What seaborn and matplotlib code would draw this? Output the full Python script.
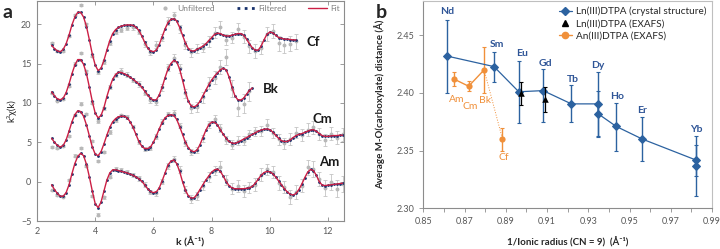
import numpy as np
import matplotlib
matplotlib.use("Agg")
import matplotlib.pyplot as plt
import seaborn as sns
from matplotlib.lines import Line2D
from matplotlib.ticker import MultipleLocator

sns.set_theme(style="ticks")
plt.rcParams['font.family'] = ['Lato', 'DejaVu Sans']

# =========================
# DATA  (panel a: k^3 chi(k), offset spectra)
# =========================
# fit / filtered curves, k from 2.5 in steps of 0.1
AM_FIT = [-0.4, -1.0, -1.5, -1.85, -1.85, -1.4, -0.4, 1.0, 2.3, 3.2,
          3.6, 3.3, 2.2, 0.6, -1.2, -2.8, -3.3, -2.6, -1.2, 0.2,
          1.1, 1.5, 1.5, 1.4, 1.3, 1.2, 1.1, 0.95, 0.8, 0.6,
          0.35, 0.05, -0.4, -0.9, -1.25, -1.4, -1.3, -0.8, 0.1, 1.1,
          2.1, 2.6, 2.75, 2.3, 1.3, 0.0, -1.1, -1.8, -2.1, -2.05,
          -1.6, -1.0, -0.4, 0.2, 0.7, 1.2, 1.5, 1.6, 1.3, 0.7,
          0.0, -0.5, -0.8, -0.9, -0.9, -0.9, -0.9, -0.85, -0.8, -0.6,
          -0.2, 0.3, 0.8, 1.15, 1.3, 1.25, 1.0, 0.6, 0.1, -0.4,
          -0.9, -1.3, -1.6, -1.7, -1.5, -1.0, -0.3, 0.5, 1.2, 1.55,
          1.4, 0.8, 0.0, -0.45, -0.5, -0.45, -0.4, -0.35, -0.3, -0.25,
          -0.2]
CM_FIT = [5.5, 5.0, 4.6, 4.4, 4.6, 5.3, 6.4, 7.6, 8.5, 9.0,
          8.9, 8.3, 7.2, 5.8, 4.4, 3.5, 3.3, 3.8, 4.8, 5.9,
          6.9, 7.6, 8.0, 8.25, 8.3, 8.3, 8.1, 7.6, 6.9, 6.0,
          5.1, 4.5, 4.2, 4.2, 4.4, 5.0, 5.8, 6.7, 7.5, 8.1,
          8.4, 8.5, 8.4, 7.9, 7.0, 6.0, 5.0, 4.3, 3.9, 3.8,
          4.0, 4.7, 5.6, 6.5, 7.2, 7.55, 7.55, 7.2, 6.6, 6.0,
          5.5, 5.1, 4.9, 4.85, 5.0, 5.2, 5.4, 5.6, 5.8, 6.0,
          6.2, 6.4, 6.55, 6.65, 6.7, 6.6, 6.3, 5.9, 5.5, 5.2,
          5.1, 5.1, 5.3, 5.6, 5.85, 6.0, 6.1, 6.25, 6.4, 6.55,
          6.6, 6.4, 6.1, 5.85, 5.75, 5.75, 5.8, 5.85, 5.85, 5.9,
          5.9]
BK_FIT = [11.4, 10.9, 10.5, 10.4, 10.6, 11.3, 12.4, 13.7, 14.8, 15.5,
          15.5, 14.9, 13.7, 12.0, 10.2, 8.7, 8.1, 8.4, 9.4, 10.8,
          12.0, 13.0, 13.6, 13.9, 13.85, 13.7, 13.5, 13.25, 13.0, 12.7,
          12.4, 12.0, 11.5, 11.0, 10.6, 10.35, 10.4, 11.0, 12.0, 13.2,
          14.3, 15.0, 15.4, 15.2, 14.3, 12.9, 11.4, 10.2, 9.6, 9.5,
          9.7, 10.2, 10.9, 11.6, 12.3, 12.9, 13.4, 13.8, 14.2, 14.4,
          14.2, 13.3, 12.0, 10.9, 10.4, 10.35, 10.6, 11.1, 11.6, 11.9]
CF_FIT = [17.3, 16.9, 16.6, 16.5, 16.8, 17.5, 18.6, 19.9, 20.9, 21.5,
          21.5, 20.9, 19.7, 18.0, 16.2, 14.8, 14.1, 14.4, 15.4, 16.7,
          17.9, 18.8, 19.3, 19.6, 19.75, 19.85, 19.9, 19.9, 19.85, 19.6,
          19.2, 18.5, 17.7, 17.0, 16.6, 16.5, 16.7, 17.4, 18.4, 19.4,
          20.2, 20.6, 20.7, 20.4, 19.6, 18.6, 17.6, 16.9, 16.6, 16.6,
          16.8, 17.0, 17.2, 17.5, 17.9, 18.3, 18.7, 18.85, 18.8, 18.6,
          18.5, 18.5, 18.6, 18.7, 18.8, 18.8, 18.6, 18.1, 17.5, 17.0,
          16.7, 16.7, 17.2, 18.0, 18.7, 19.0, 18.9, 18.6, 18.3, 18.2,
          18.1, 18.1, 18.05, 18.0, 18.0]

# unfiltered data with error bars, k from 2.5 in steps of 0.2
AM_RAW = [-1.1, -1.7, -1.9, 0.2, 3.3, 4.3, 2.0, -1.8, -4.2, -2.0,
          0.6, 1.6, 1.5, 1.2, 0.9, 0.4, -0.4, -1.3, -1.5, 0.0,
          2.0, 2.9, 1.5, -1.0, -2.2, -1.8, -0.5, 0.6, 1.4, 1.9,
          0.2, -0.9, -0.6, -1.2, -0.7, -0.4, 0.9, 1.6, 1.2, -0.2,
          -0.7, -1.9, -1.3, -0.5, 1.8, 1.6, 0.3, -0.8, 0.0, -0.9,
          -0.3]
AM_ERR = [0.1, 0.1, 0.1, 0.12, 0.15, 0.15, 0.15, 0.15, 0.2, 0.2,
          0.2, 0.2, 0.2, 0.25, 0.25, 0.3, 0.3, 0.3, 0.35, 0.35,
          0.4, 0.4, 0.45, 0.45, 0.5, 0.5, 0.55, 0.6, 0.6, 0.7,
          0.6, 0.7, 0.75, 0.8, 0.7, 0.8, 0.85, 0.7, 0.8, 0.9,
          0.8, 0.9, 0.9, 0.8, 0.95, 1.0, 0.9, 1.0, 1.0, 1.1,
          1.0]
CM_RAW = [4.4, 4.3, 4.5, 5.8, 8.5, 9.9, 8.6, 5.2, 2.6, 3.8,
          6.3, 7.8, 8.4, 8.2, 7.0, 5.0, 4.1, 4.3, 5.7, 7.6,
          8.6, 8.7, 7.1, 4.9, 3.8, 4.0, 5.5, 7.3, 7.9, 6.8,
          5.3, 4.7, 5.2, 5.2, 6.0, 6.4, 6.4, 7.2, 6.2, 5.4,
          4.9, 5.4, 6.2, 5.9, 6.6, 6.9, 6.0, 5.3, 6.1, 5.6,
          6.0]
CM_ERR = [0.1, 0.1, 0.1, 0.1, 0.12, 0.15, 0.15, 0.15, 0.15, 0.15,
          0.2, 0.2, 0.2, 0.2, 0.2, 0.25, 0.25, 0.25, 0.3, 0.3,
          0.3, 0.35, 0.35, 0.35, 0.4, 0.4, 0.45, 0.45, 0.5, 0.5,
          0.5, 0.55, 0.55, 0.6, 0.6, 0.6, 0.65, 0.7, 0.65, 0.7,
          0.7, 0.75, 0.7, 0.75, 0.8, 0.8, 0.75, 0.8, 0.85, 0.8,
          0.85]
BK_RAW = [11.2, 10.3, 10.5, 12.2, 15.0, 16.3, 14.0, 10.0, 7.7, 9.3,
          12.0, 13.6, 14.1, 13.6, 12.9, 12.4, 11.3, 10.4, 10.1, 12.0,
          14.5, 15.7, 14.4, 11.2, 9.3, 9.5, 10.7, 12.5, 13.2, 14.6,
          15.8, 11.8, 9.4, 9.9, 11.5]
BK_ERR = [0.1, 0.1, 0.1, 0.15, 0.15, 0.15, 0.2, 0.2, 0.2, 0.2,
          0.25, 0.25, 0.3, 0.3, 0.3, 0.35, 0.35, 0.4, 0.4, 0.45,
          0.45, 0.5, 0.55, 0.6, 0.6, 0.65, 0.7, 0.75, 0.8, 0.9,
          1.0, 1.1, 1.1, 1.2, 1.2]
CF_RAW = [17.6, 16.6, 16.6, 18.5, 21.2, 22.4, 20.0, 16.0, 13.9, 15.2,
          17.6, 19.0, 19.3, 19.5, 19.6, 19.0, 17.5, 16.4, 17.4, 18.3,
          20.4, 21.1, 19.4, 17.3, 16.4, 16.9, 17.0, 17.8, 18.9, 19.6,
          18.0, 18.3, 19.4, 18.4, 17.2, 16.6, 17.0, 18.8, 19.1, 17.6,
          17.3, 17.5, 17.8]
CF_ERR = [0.1, 0.1, 0.1, 0.15, 0.15, 0.15, 0.2, 0.2, 0.2, 0.2,
          0.25, 0.25, 0.25, 0.3, 0.3, 0.3, 0.35, 0.35, 0.4, 0.4,
          0.45, 0.45, 0.5, 0.5, 0.55, 0.6, 0.6, 0.65, 0.7, 0.8,
          0.7, 0.75, 0.8, 0.8, 0.85, 0.9, 0.85, 0.9, 0.9, 0.95,
          1.0, 0.95, 1.0]

SPECTRA = ['Am', 'Cm', 'Bk', 'Cf']
K_END = {'Am': 12.5, 'Cm': 12.5, 'Bk': 9.4, 'Cf': 10.9}

# =========================
# DATA  (panel b: M-O distance vs 1/ionic radius)
# =========================
LN_NAMES = ['Nd', 'Sm', 'Eu', 'Gd', 'Tb', 'Dy', 'Ho', 'Er', 'Yb']
LN_X = [0.8614, 0.8843, 0.8963, 0.9081, 0.9218, 0.9347, 0.9347, 0.9435, 0.9562, 0.9824, 0.9824]
LN_Y = [2.432, 2.4228, 2.401, 2.402, 2.3905, 2.3905, 2.382, 2.371, 2.360, 2.3417, 2.337]
LN_ERR_LO = [0.032, 0.0133, 0.027, 0.027, 0.0155, 0.028, 0.020, 0.021, 0.019, 0.0135, 0.026]
LN_ERR_HI = [0.031, 0.0125, 0.027, 0.019, 0.016, 0.028, 0.020, 0.020, 0.019, 0.0135, 0.026]

LNX_X = [0.8974, 0.9092]
LNX_Y = [2.3995, 2.3945]
LNX_ERR = [0.010, 0.011]

AN_NAMES = ['Am', 'Cm', 'Bk', 'Cf']
AN_X = [0.8649, 0.8720, 0.8795, 0.8884]
AN_Y = [2.412, 2.4058, 2.420, 2.360]
AN_ERR = [0.006, 0.0045, 0.020, 0.010]

# =========================
# STYLE
# =========================
GREY_TXT = '#595959'
SPINE = '#8c8c8c'
RAW_C = '#b8b8b8'
FILT_C = '#16306b'
FIT_C = '#cc1f45'
BLUE = '#2c62a0'
BLUE_TXT = '#2f5597'
ORANGE = '#f0903a'

fig = plt.figure(figsize=(7.2, 2.49), dpi=100)
axa = fig.add_axes([0.0514, 0.1124, 0.4264, 0.8855])
axb = fig.add_axes([0.5879, 0.1635, 0.4010, 0.8340])

# ---------- panel a ----------
data = {'Am': (AM_FIT, AM_RAW, AM_ERR), 'Cm': (CM_FIT, CM_RAW, CM_ERR),
        'Bk': (BK_FIT, BK_RAW, BK_ERR), 'Cf': (CF_FIT, CF_RAW, CF_ERR)}
for name in SPECTRA:
    fit, raw, err = data[name]
    k_fit = np.round(np.arange(2.5, K_END[name] + 0.01, 0.1), 2)
    k_raw = np.round(np.arange(2.5, K_END[name] + 0.01, 0.2), 2)
    axa.errorbar(k_raw, raw, yerr=err, fmt='o', ms=1.8, mfc=RAW_C, mec=RAW_C,
                 ecolor='#c4c4c4', elinewidth=0.6, capsize=1.2, capthick=0.6, zorder=1)
    sns.scatterplot(x=k_fit, y=fit, ax=axa, s=4, color=FILT_C, linewidth=0, zorder=2)
    sns.lineplot(x=k_fit, y=fit, ax=axa, color=FIT_C, lw=1.0, zorder=3)

spec_lbl = {'Cf': (11.5, 17.75), 'Bk': (10.05, 11.8), 'Cm': (11.8, 8.0), 'Am': (12.05, 2.5)}
for name, (tx, ty) in spec_lbl.items():
    axa.text(tx, ty, name, fontsize=9.5, fontweight='bold', ha='center', va='center', color='#1a1a1a')

axa.set_xlim(2, 12.55)
axa.set_ylim(-5, 23)
axa.set_xticks([2, 4, 6, 8, 10, 12])
axa.set_yticks([-5, 0, 5, 10, 15, 20])
axa.tick_params(direction='in', top=True, right=True, length=3, width=0.6,
                color=SPINE, labelcolor=GREY_TXT, labelsize=6.5, pad=4)
for sp in axa.spines.values():
    sp.set_color(SPINE)
    sp.set_linewidth(0.8)
axa.set_xlabel('k (Å⁻¹)', fontsize=7.5, fontweight='bold', labelpad=1, color='#262626')
axa.set_ylabel('k³χ(k)', fontsize=7, labelpad=3, color='#262626')

handles = [Line2D([], [], ls='none', marker='o', ms=2, color=RAW_C),
           Line2D([], [], ls=(0, (1, 1.6)), lw=2, color=FILT_C),
           Line2D([], [], lw=1.0, color=FIT_C)]
leg = axa.legend(handles, ['Unfiltered', 'Filtered', 'Fit'], ncol=3, loc='upper right',
                 bbox_to_anchor=(1.01, 1.015), frameon=False, fontsize=6,
                 handlelength=2.2, handletextpad=0.4, columnspacing=2.6)
for t in leg.get_texts():
    t.set_color('#7f7f7f')

# ---------- panel b ----------
axb.errorbar(LN_X, LN_Y, yerr=[LN_ERR_LO, LN_ERR_HI], fmt='none', ecolor=BLUE,
             elinewidth=1.0, capsize=1.5, capthick=0.8, zorder=2)
sns.lineplot(x=LN_X, y=LN_Y, ax=axb, color=BLUE, lw=0.9, marker='D', ms=4.2,
             mec=BLUE, sort=False, estimator=None, zorder=3)

axb.errorbar(LNX_X, LNX_Y, yerr=LNX_ERR, fmt='none', ecolor='black',
             elinewidth=0.9, capsize=1.5, capthick=0.8, zorder=4)
sns.scatterplot(x=LNX_X, y=LNX_Y, ax=axb, marker='^', s=22, color='black', linewidth=0, zorder=5)

axb.errorbar(AN_X, AN_Y, yerr=AN_ERR, fmt='none', ecolor=ORANGE,
             elinewidth=1.0, capsize=1.5, capthick=0.8, zorder=2)
sns.lineplot(x=AN_X[:3], y=AN_Y[:3], ax=axb, color=ORANGE, lw=1.0, sort=False, estimator=None, zorder=3)
sns.lineplot(x=AN_X[2:], y=AN_Y[2:], ax=axb, color=ORANGE, lw=0.7, ls=':', sort=False, estimator=None, zorder=3)
sns.scatterplot(x=AN_X, y=AN_Y, ax=axb, marker='o', s=20, color=ORANGE, linewidth=0, zorder=4)

ln_lbl = [(0.8617, 2.4705), (0.8856, 2.4416), (0.8978, 2.4344), (0.9094, 2.4257), (0.9225, 2.4119),
          (0.9347, 2.4237), (0.9439, 2.3968), (0.9560, 2.3847), (0.9822, 2.3685)]
for name, (tx, ty) in zip(LN_NAMES, ln_lbl):
    axb.text(tx, ty, name, fontsize=7.5, fontweight='bold', color=BLUE_TXT, ha='center', va='center')
an_lbl = [(0.8662, 2.3939), (0.8727, 2.3881), (0.8800, 2.3933), (0.8892, 2.3439)]
for name, (tx, ty) in zip(AN_NAMES, an_lbl):
    axb.text(tx, ty, name, fontsize=7.5, color=ORANGE, ha='center', va='center')

axb.set_xlim(0.85, 0.99)
axb.set_ylim(2.30, 2.48)
axb.set_xticks(np.arange(0.85, 0.991, 0.02))
axb.xaxis.set_minor_locator(MultipleLocator(0.01))
axb.set_yticks([2.30, 2.35, 2.40, 2.45])
axb.set_xticklabels([f'{v:.2f}' for v in np.arange(0.85, 0.991, 0.02)])
axb.set_yticklabels(['2.30', '2.35', '2.40', '2.45'])
axb.tick_params(which='both', direction='out', length=3, width=0.6, color=SPINE,
                labelcolor=GREY_TXT, labelsize=6.5)
for sp in axb.spines.values():
    sp.set_color('#bfbfbf')
    sp.set_linewidth(0.8)
axb.spines['left'].set_color(SPINE)
axb.spines['bottom'].set_color(SPINE)
axb.set_xlabel('1/Ionic radius (CN = 9)  (Å⁻¹)', fontsize=7, fontweight='bold', labelpad=8, color='#262626')
axb.set_ylabel('Average M-O(carboxylate) distance (Å)', fontsize=7, fontweight='bold', labelpad=8, color='#262626')

hb = [Line2D([], [], color=BLUE, lw=0.9, marker='D', ms=4),
      Line2D([], [], color='black', ls='none', marker='^', ms=4.5),
      Line2D([], [], color=ORANGE, lw=1.0, marker='o', ms=4.5)]
legb = axb.legend(hb, ['Ln(III)DTPA (crystal structure)', 'Ln(III)DTPA (EXAFS)', 'An(III)DTPA (EXAFS)'],
                  loc='upper right', bbox_to_anchor=(1.0, 1.0), frameon=False, fontsize=7.2,
                  handlelength=1.3, handletextpad=0.4, labelspacing=0.3, borderaxespad=0.2)
for t in legb.get_texts():
    t.set_color('#262626')

fig.text(0.003, 0.985, 'a', fontsize=14, fontweight='bold', va='top', ha='left')
fig.text(0.522, 0.985, 'b', fontsize=14, fontweight='bold', va='top', ha='left')

fig.savefig('out.png', dpi=100)
